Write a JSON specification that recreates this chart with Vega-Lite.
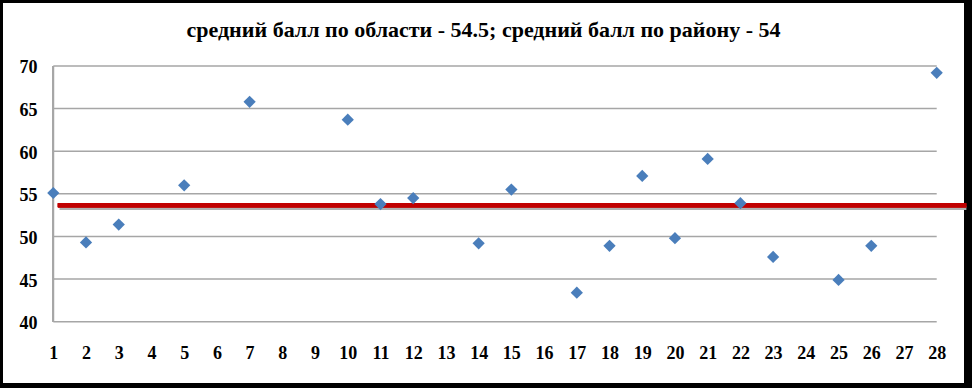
{
  "$schema": "https://vega.github.io/schema/vega-lite/v6.json",
  "width": 961,
  "height": 380,
  "autosize": {"type": "none"},
  "padding": {"left": 3, "top": 3, "right": 8, "bottom": 5},
  "background": "#000000",
  "config": {"view": {"fill": "#ffffff", "stroke": null}, "font": "Liberation Serif"},
  "title": {
    "text": "средний балл по области - 54.5; средний балл по району - 54",
    "font": "Liberation Serif",
    "fontSize": 22,
    "fontWeight": "bold",
    "color": "#000000",
    "anchor": "middle",
    "baseline": "alphabetic",
    "offset": -37,
    "dy": 19
  },
  "datasets": {
    "scores": [
      {"n": 1, "score": 55.1},
      {"n": 2, "score": 49.3},
      {"n": 3, "score": 51.4},
      {"n": 5, "score": 56.0},
      {"n": 7, "score": 65.8},
      {"n": 10, "score": 63.7},
      {"n": 11, "score": 53.8},
      {"n": 12, "score": 54.5},
      {"n": 14, "score": 49.2},
      {"n": 15, "score": 55.5},
      {"n": 17, "score": 43.4},
      {"n": 18, "score": 48.9},
      {"n": 19, "score": 57.1},
      {"n": 20, "score": 49.8},
      {"n": 21, "score": 59.1},
      {"n": 22, "score": 53.9},
      {"n": 23, "score": 47.6},
      {"n": 25, "score": 44.9},
      {"n": 26, "score": 48.9},
      {"n": 28, "score": 69.2}
    ],
    "grid": [
      {"v": 40}, {"v": 45}, {"v": 50}, {"v": 55}, {"v": 60}, {"v": 65}, {"v": 70}
    ]
  },
  "encoding": {
    "x": {
      "type": "quantitative",
      "title": null,
      "scale": {"domain": [-0.537, 28.834], "nice": false, "zero": false},
      "axis": {
        "values": [1,2,3,4,5,6,7,8,9,10,11,12,13,14,15,16,17,18,19,20,21,22,23,24,25,26,27,28],
        "format": "d",
        "domain": false,
        "ticks": false,
        "tickSize": 0,
        "grid": false,
        "labelPadding": -39,
        "labelFontSize": 18,
        "labelFontWeight": "bold",
        "labelFont": "Liberation Serif",
        "labelColor": "#000000",
        "labelFlush": false,
        "labelOverlap": false
      }
    },
    "y": {
      "type": "quantitative",
      "title": null,
      "scale": {"domain": [32.81, 77.39], "nice": false, "zero": false},
      "axis": {
        "values": [40, 45, 50, 55, 60, 65, 70],
        "domain": false,
        "ticks": false,
        "tickSize": 0,
        "grid": false,
        "labelPadding": -34,
        "labelOffset": 2,
        "labelFontSize": 18,
        "labelFontWeight": "bold",
        "labelFont": "Liberation Serif",
        "labelColor": "#000000",
        "labelFlush": false,
        "labelOverlap": false
      }
    }
  },
  "layer": [
    {
      "data": {"name": "grid"},
      "mark": {"type": "rule", "color": "#a6a6a6", "strokeWidth": 1.5},
      "encoding": {
        "y": {"field": "v"},
        "x": {"datum": 1},
        "x2": {"datum": 28}
      }
    },
    {
      "data": {"name": "grid"},
      "mark": {"type": "rule", "color": "#a6a6a6", "strokeWidth": 1.5},
      "encoding": {
        "x": {"datum": 1},
        "y": {"datum": 40},
        "y2": {"datum": 70}
      }
    },
    {
      "data": {"name": "grid"},
      "mark": {"type": "rule", "color": "#b0b0b0", "strokeWidth": 4, "opacity": 0.45},
      "encoding": {
        "x": {"datum": 1.2},
        "x2": {"datum": 28.9},
        "y": {"datum": 53.35}
      }
    },
    {
      "data": {"name": "grid"},
      "mark": {"type": "rule", "color": "#c00000", "strokeWidth": 4},
      "encoding": {
        "x": {"datum": 1.14},
        "x2": {"datum": 28.9},
        "y": {"datum": 53.65}
      }
    },
    {
      "data": {"name": "scores"},
      "mark": {"type": "point", "shape": "diamond", "filled": true, "size": 150, "color": "#4a7ebb", "opacity": 1},
      "encoding": {
        "x": {"field": "n"},
        "y": {"field": "score"}
      }
    }
  ]
}
